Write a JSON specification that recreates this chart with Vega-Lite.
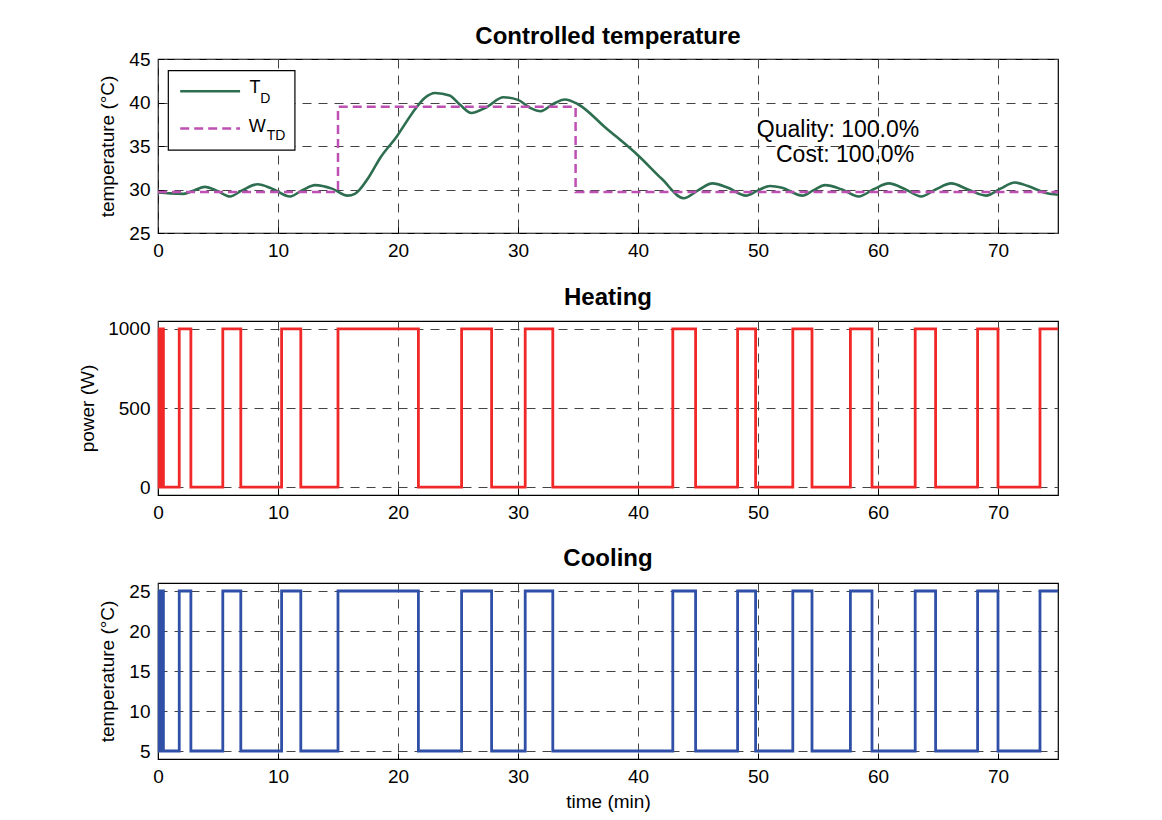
{
  "$schema": "https://vega.github.io/schema/vega-lite/v6.json",
  "background": "white",
  "padding": {"left": 78, "top": 24, "right": 5, "bottom": 5},
  "datasets": {
    "temp": [
      {"t": 0, "T": 29.65}, {"t": 1.0, "T": 29.55}, {"t": 2.1, "T": 29.5}, {"t": 3.0, "T": 29.9},
      {"t": 3.9, "T": 30.3}, {"t": 5.0, "T": 29.8}, {"t": 6.0, "T": 29.2}, {"t": 7.0, "T": 29.9},
      {"t": 8.3, "T": 30.6}, {"t": 9.5, "T": 30.1}, {"t": 11.0, "T": 29.2}, {"t": 12.0, "T": 29.9},
      {"t": 13.1, "T": 30.5}, {"t": 14.5, "T": 30.1}, {"t": 15.8, "T": 29.3}, {"t": 16.4, "T": 29.5},
      {"t": 17.6, "T": 31.5}, {"t": 18.5, "T": 33.6}, {"t": 19.9, "T": 36.1}, {"t": 21.2, "T": 38.8},
      {"t": 22.2, "T": 40.5}, {"t": 23.1, "T": 41.1}, {"t": 24.3, "T": 40.8}, {"t": 25.2, "T": 39.7},
      {"t": 26.1, "T": 38.8}, {"t": 27.3, "T": 39.4}, {"t": 28.8, "T": 40.6}, {"t": 30.0, "T": 40.3},
      {"t": 31.0, "T": 39.4}, {"t": 31.9, "T": 39.0}, {"t": 32.9, "T": 39.8}, {"t": 33.9, "T": 40.35},
      {"t": 35.0, "T": 39.8}, {"t": 37.3, "T": 37.1}, {"t": 40.1, "T": 33.8}, {"t": 42.0, "T": 31.2},
      {"t": 43.8, "T": 29.0}, {"t": 45.0, "T": 29.9}, {"t": 46.2, "T": 30.7}, {"t": 47.5, "T": 30.2},
      {"t": 49.0, "T": 29.3}, {"t": 50.0, "T": 29.9}, {"t": 51.0, "T": 30.4}, {"t": 52.0, "T": 30.2},
      {"t": 53.7, "T": 29.3}, {"t": 54.6, "T": 29.9}, {"t": 55.6, "T": 30.5}, {"t": 57.0, "T": 30.0},
      {"t": 58.4, "T": 29.2}, {"t": 59.6, "T": 30.0}, {"t": 60.9, "T": 30.7}, {"t": 62.3, "T": 30.0},
      {"t": 63.6, "T": 29.2}, {"t": 64.8, "T": 30.0}, {"t": 66.1, "T": 30.7}, {"t": 67.5, "T": 30.0},
      {"t": 69.0, "T": 29.3}, {"t": 70.2, "T": 30.1}, {"t": 71.4, "T": 30.8}, {"t": 72.5, "T": 30.4},
      {"t": 74.0, "T": 29.6}, {"t": 75.0, "T": 29.4}
    ],
    "setpoint": [
      {"t": 0, "W": 29.7}, {"t": 15.0, "W": 39.5}, {"t": 34.8, "W": 29.7}, {"t": 75, "W": 29.7}
    ],
    "heating": [
      {"t": 0, "P": 1000}, {"t": 0.1, "P": 0}, {"t": 0.2, "P": 1000}, {"t": 0.3, "P": 0},
      {"t": 0.38, "P": 1000}, {"t": 0.45, "P": 0},
      {"t": 1.77, "P": 1000}, {"t": 2.74, "P": 0}, {"t": 5.4, "P": 1000}, {"t": 6.9, "P": 0},
      {"t": 10.3, "P": 1000}, {"t": 11.9, "P": 0}, {"t": 15.0, "P": 1000}, {"t": 21.7, "P": 0},
      {"t": 25.3, "P": 1000}, {"t": 27.8, "P": 0}, {"t": 30.6, "P": 1000}, {"t": 32.9, "P": 0},
      {"t": 42.9, "P": 1000}, {"t": 44.8, "P": 0}, {"t": 48.3, "P": 1000}, {"t": 49.8, "P": 0},
      {"t": 52.9, "P": 1000}, {"t": 54.5, "P": 0}, {"t": 57.7, "P": 1000}, {"t": 59.5, "P": 0},
      {"t": 63.1, "P": 1000}, {"t": 64.8, "P": 0}, {"t": 68.3, "P": 1000}, {"t": 70.0, "P": 0},
      {"t": 73.5, "P": 1000}, {"t": 75, "P": 1000}
    ],
    "cooling": [
      {"t": 0, "C": 25}, {"t": 0.1, "C": 5}, {"t": 0.2, "C": 25}, {"t": 0.3, "C": 5},
      {"t": 0.38, "C": 25}, {"t": 0.45, "C": 5},
      {"t": 1.77, "C": 25}, {"t": 2.74, "C": 5}, {"t": 5.4, "C": 25}, {"t": 6.9, "C": 5},
      {"t": 10.3, "C": 25}, {"t": 11.9, "C": 5}, {"t": 15.0, "C": 25}, {"t": 21.7, "C": 5},
      {"t": 25.3, "C": 25}, {"t": 27.8, "C": 5}, {"t": 30.6, "C": 25}, {"t": 32.9, "C": 5},
      {"t": 42.9, "C": 25}, {"t": 44.8, "C": 5}, {"t": 48.3, "C": 25}, {"t": 49.8, "C": 5},
      {"t": 52.9, "C": 25}, {"t": 54.5, "C": 5}, {"t": 57.7, "C": 25}, {"t": 59.5, "C": 5},
      {"t": 63.1, "C": 25}, {"t": 64.8, "C": 5}, {"t": 68.3, "C": 25}, {"t": 70.0, "C": 5},
      {"t": 73.5, "C": 25}, {"t": 75, "C": 25}
    ]
  },
  "spacing": 88,
  "bounds": "flush",
  "vconcat": [
    {
      "width": 900,
      "height": 174,
      "title": "Controlled temperature",
      "layer": [
        {
          "data": {"name": "temp"},
          "mark": {"type": "line", "interpolate": "monotone", "color": "#2E6E50", "strokeWidth": 2.6, "clip": true},
          "encoding": {
            "x": {"field": "t", "type": "quantitative", "scale": {"domain": [0, 75], "nice": false}, "axis": {"values": [0, 10, 20, 30, 40, 50, 60, 70], "title": null}},
            "y": {"field": "T", "type": "quantitative", "scale": {"domain": [25, 45], "nice": false, "zero": false}, "axis": {"values": [25, 30, 35, 40, 45], "title": "temperature (°C)"}}
          }
        },
        {
          "data": {"name": "setpoint"},
          "mark": {"type": "line", "interpolate": "step-after", "color": "#BE50B4", "strokeWidth": 2.5, "strokeDash": [9, 5]},
          "encoding": {
            "x": {"field": "t", "type": "quantitative"},
            "y": {"field": "W", "type": "quantitative"}
          }
        },
        {
          "data": {"values": [{}]},
          "mark": {"type": "rect", "fill": "white", "stroke": "black", "strokeWidth": 1.2},
          "encoding": {
            "x": {"datum": 0.86, "type": "quantitative"}, "x2": {"datum": 11.41},
            "y": {"datum": 43.66, "type": "quantitative"}, "y2": {"datum": 34.52}
          }
        },
        {
          "data": {"values": [{}]},
          "mark": {"type": "rule", "color": "#2E6E50", "strokeWidth": 2.6},
          "encoding": {
            "x": {"datum": 1.85, "type": "quantitative"}, "x2": {"datum": 6.84},
            "y": {"datum": 41.3, "type": "quantitative"}
          }
        },
        {
          "data": {"values": [{}]},
          "mark": {"type": "rule", "color": "#BE50B4", "strokeWidth": 2.5, "strokeDash": [9, 5]},
          "encoding": {
            "x": {"datum": 1.85, "type": "quantitative"}, "x2": {"datum": 6.84},
            "y": {"datum": 37.0, "type": "quantitative"}
          }
        },
        {
          "data": {"values": [{}]},
          "mark": {"type": "text", "text": "T", "fontSize": 18, "align": "left", "baseline": "alphabetic", "font": "Liberation Sans", "color": "black"},
          "encoding": {"x": {"datum": 7.62, "type": "quantitative"}, "y": {"datum": 41.07, "type": "quantitative"}}
        },
        {
          "data": {"values": [{}]},
          "mark": {"type": "text", "text": "D", "fontSize": 14, "align": "left", "baseline": "alphabetic", "font": "Liberation Sans", "color": "black"},
          "encoding": {"x": {"datum": 8.53, "type": "quantitative"}, "y": {"datum": 40.0, "type": "quantitative"}}
        },
        {
          "data": {"values": [{}]},
          "mark": {"type": "text", "text": "W", "fontSize": 18, "align": "left", "baseline": "alphabetic", "font": "Liberation Sans", "color": "black"},
          "encoding": {"x": {"datum": 7.57, "type": "quantitative"}, "y": {"datum": 36.58, "type": "quantitative"}}
        },
        {
          "data": {"values": [{}]},
          "mark": {"type": "text", "text": "TD", "fontSize": 14, "align": "left", "baseline": "alphabetic", "font": "Liberation Sans", "color": "black"},
          "encoding": {"x": {"datum": 9.06, "type": "quantitative"}, "y": {"datum": 35.66, "type": "quantitative"}}
        },
        {
          "data": {"values": [{}]},
          "mark": {"type": "text", "text": "Quality: 100.0%", "fontSize": 23, "align": "left", "baseline": "alphabetic", "font": "Liberation Sans", "color": "black"},
          "encoding": {"x": {"datum": 49.9, "type": "quantitative"}, "y": {"datum": 36.05, "type": "quantitative"}}
        },
        {
          "data": {"values": [{}]},
          "mark": {"type": "text", "text": "Cost: 100.0%", "fontSize": 23, "align": "left", "baseline": "alphabetic", "font": "Liberation Sans", "color": "black"},
          "encoding": {"x": {"datum": 51.5, "type": "quantitative"}, "y": {"datum": 33.15, "type": "quantitative"}}
        }
      ]
    },
    {
      "width": 900,
      "height": 174,
      "title": {"text": "Heating", "offset": 10},
      "data": {"name": "heating"},
      "mark": {"type": "line", "interpolate": "step-after", "color": "#F02828", "strokeWidth": 2.8},
      "encoding": {
        "x": {"field": "t", "type": "quantitative", "scale": {"domain": [0, 75], "nice": false}, "axis": {"values": [0, 10, 20, 30, 40, 50, 60, 70], "title": null}},
        "y": {"field": "P", "type": "quantitative", "scale": {"domain": [-50, 1050], "nice": false}, "axis": {"values": [0, 500, 1000], "format": "d", "title": "power (W)", "titlePadding": 10}}
      }
    },
    {
      "width": 900,
      "height": 176,
      "title": {"text": "Cooling", "offset": 11},
      "data": {"name": "cooling"},
      "mark": {"type": "line", "interpolate": "step-after", "color": "#3050A8", "strokeWidth": 2.8},
      "encoding": {
        "x": {"field": "t", "type": "quantitative", "scale": {"domain": [0, 75], "nice": false}, "axis": {"values": [0, 10, 20, 30, 40, 50, 60, 70], "title": "time (min)", "titlePadding": 6}},
        "y": {"field": "C", "type": "quantitative", "scale": {"domain": [4, 26], "nice": false, "zero": false}, "axis": {"values": [5, 10, 15, 20, 25], "title": "temperature (°C)"}}
      }
    }
  ],
  "config": {
    "font": "Liberation Sans",
    "view": {"stroke": "black", "strokeWidth": 1.2},
    "axis": {
      "domain": false,
      "grid": true,
      "gridColor": "#444444",
      "gridDash": [9, 7],
      "gridWidth": 1,
      "ticks": true,
      "tickColor": "black",
      "tickSize": -6,
      "tickWidth": 1,
      "labelPadding": 14,
      "labelFontSize": 19,
      "labelColor": "black",
      "labelFont": "Liberation Sans",
      "labelFlush": false,
      "labelOverlap": false,
      "titleFont": "Liberation Sans",
      "titleFontSize": 19,
      "titleFontWeight": "normal",
      "titleColor": "black",
      "titlePadding": 11
    },
    "title": {"font": "Liberation Sans", "fontSize": 24, "fontWeight": "bold", "color": "black", "offset": 1, "anchor": "middle"}
  }
}
